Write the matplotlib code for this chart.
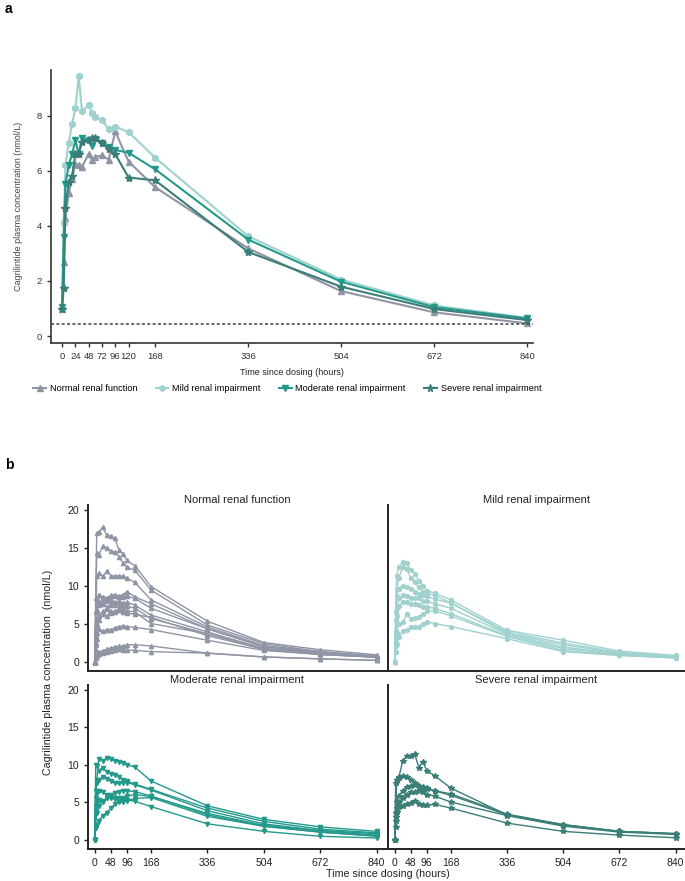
import numpy as np
import matplotlib
matplotlib.use("Agg")
import matplotlib.pyplot as plt

plt.rcParams['font.family'] = ['Liberation Sans', 'DejaVu Sans']

# ---- panel a: mean profiles ----
t_mean = [0, 3, 6, 12, 18, 24, 30, 36, 48, 54, 60, 72, 84, 96, 120, 168, 336, 504, 672, 840]
normal_mean = [1.0, 2.7, 4.3, 5.2, 5.7, 6.25, 6.2, 6.15, 6.6, 6.4, 6.5, 6.55, 6.4, 7.42, 6.33, 5.4, 3.18, 1.63, 0.86, 0.46]
mild_mean = [1.0, 4.1, 6.2, 7.0, 7.7, 8.26, 9.42, 8.15, 8.38, 8.09, 7.94, 7.84, 7.5, 7.6, 7.4, 6.47, 3.62, 2.05, 1.11, 0.66]
moderate_mean = [1.05, 3.6, 5.5, 6.2, 6.6, 7.1, 6.6, 7.17, 7.1, 6.89, 7.15, 7.0, 6.85, 6.75, 6.65, 6.05, 3.5, 1.97, 1.05, 0.64]
severe_mean = [1.0, 1.75, 4.65, 5.6, 5.8, 6.6, 6.6, 7.05, 7.1, 7.2, 7.2, 7.0, 6.8, 6.6, 5.75, 5.65, 3.05, 1.79, 0.98, 0.58]
lloq = 0.43

ticks_a = [0, 24, 48, 72, 96, 120, 168, 336, 504, 672, 840]
ticks_b = [0, 48, 96, 168, 336, 504, 672, 840]

# ---- panel b: individual profiles ----
t_ind = [0, 3, 6, 12, 24, 36, 48, 60, 72, 84, 96, 120, 168, 336, 504, 672, 840]

normal_ind = [
    [0, 8.3, 16.9, 17.0, 17.7, 16.6, 16.5, 16.2, 14.7, 14.2, 13.3, 12.6, 9.85, 5.3, 2.5, 1.55, 0.88],
    [0, 6.5, 14.3, 14.0, 15.2, 14.9, 14.5, 14.4, 13.8, 13.0, 12.4, 12.0, 9.4, 4.8, 2.35, 1.3, 0.7],
    [0, 4.0, 11.3, 11.6, 11.2, 11.9, 11.3, 11.2, 11.3, 11.2, 11.0, 10.4, 8.1, 4.55, 2.1, 1.3, 0.7],
    [0, 6.6, 8.3, 8.7, 8.5, 8.4, 8.7, 8.8, 8.6, 8.8, 9.2, 8.5, 7.6, 4.3, 2.0, 1.15, 0.57],
    [0, 3.7, 7.8, 8.7, 8.2, 8.4, 8.2, 8.6, 8.5, 8.5, 8.6, 8.3, 7.0, 4.3, 1.9, 1.15, 0.57],
    [0, 2.4, 6.5, 7.8, 8.0, 7.9, 8.0, 7.8, 7.9, 7.7, 7.8, 7.4, 6.1, 3.9, 1.7, 1.15, 0.57],
    [0, 4.5, 6.8, 7.4, 7.6, 7.2, 7.5, 7.4, 7.5, 7.2, 7.3, 7.0, 5.65, 3.66, 1.7, 1.0, 0.57],
    [0, 3.5, 5.0, 6.0, 6.6, 6.9, 6.4, 6.6, 6.9, 6.5, 6.7, 6.5, 5.0, 3.66, 1.6, 0.93, 0.57],
    [0, 1.5, 3.0, 5.4, 6.2, 6.0, 6.6, 6.5, 6.8, 6.6, 6.4, 6.2, 5.8, 3.4, 1.6, 0.93, 0.57],
    [0, 2.2, 3.8, 4.3, 4.0, 4.2, 4.2, 4.4, 4.6, 4.7, 4.6, 4.5, 4.2, 2.8, 1.45, 0.93, 0.57],
    [0, 0.6, 0.9, 1.2, 1.4, 1.6, 1.8, 1.9, 2.0, 2.0, 2.2, 2.2, 2.05, 1.1, 0.6, 0.35, 0.15],
    [0, 0.4, 0.7, 1.0, 1.1, 1.3, 1.4, 1.5, 1.6, 1.5, 1.5, 1.45, 1.3, 1.1, 0.6, 0.35, 0.15],
]
mild_ind = [
    [0, 6.5, 11.3, 12.5, 13.1, 12.9, 12.0, 11.5, 10.6, 10.0, 9.3, 9.0, 8.1, 4.1, 2.8, 1.37, 0.8],
    [0, 5.5, 9.5, 11.0, 12.4, 12.2, 11.0, 10.4, 9.8, 9.2, 9.0, 8.7, 7.7, 3.9, 2.43, 1.2, 0.7],
    [0, 4.0, 8.6, 9.6, 10.0, 9.8, 9.5, 9.2, 8.9, 8.7, 8.6, 8.2, 7.7, 3.7, 2.2, 1.1, 0.65],
    [0, 3.5, 7.0, 8.3, 8.8, 8.6, 8.4, 8.4, 8.3, 8.0, 7.9, 7.6, 7.0, 3.6, 1.9, 1.0, 0.6],
    [0, 2.5, 6.0, 7.3, 7.8, 7.8, 7.6, 7.6, 7.4, 7.2, 7.2, 7.0, 6.3, 3.4, 1.7, 0.9, 0.57],
    [0, 2.0, 3.7, 5.0, 5.2, 6.2, 5.6, 5.7, 5.8, 6.3, 6.6, 6.7, 6.0, 3.3, 1.45, 0.8, 0.5],
    [0, 1.3, 2.3, 3.2, 4.0, 4.2, 4.5, 4.5, 4.6, 5.0, 5.2, 5.0, 4.6, 3.0, 1.3, 0.8, 0.45],
]
moderate_ind = [
    [0, 5.5, 8.0, 10.8, 10.5, 10.9, 10.7, 10.5, 10.4, 10.2, 10.0, 9.65, 7.8, 4.5, 2.7, 1.7, 1.1],
    [0, 10.0, 9.8, 9.2, 9.6, 9.0, 8.8, 8.6, 8.4, 8.0, 7.8, 7.4, 6.7, 4.2, 2.43, 1.4, 0.9],
    [0, 6.5, 7.5, 8.0, 8.3, 8.1, 7.8, 7.5, 7.5, 7.6, 7.6, 7.3, 6.6, 3.85, 2.1, 1.2, 0.8],
    [0, 4.5, 6.2, 6.5, 6.3, 5.9, 5.7, 5.6, 5.6, 5.5, 5.8, 6.0, 5.75, 3.5, 1.9, 1.2, 0.6],
    [0, 3.8, 5.0, 5.3, 5.0, 5.5, 5.5, 5.4, 5.3, 5.4, 5.3, 5.1, 4.4, 2.1, 1.1, 0.44, 0.22],
    [0, 1.5, 2.0, 2.5, 3.2, 3.6, 4.2, 4.7, 5.0, 5.0, 5.2, 5.5, 5.6, 3.1, 1.77, 1.0, 0.44],
    [0, 2.0, 3.5, 4.5, 5.2, 5.5, 6.0, 6.2, 6.4, 6.5, 6.5, 6.4, 5.8, 3.3, 1.8, 1.0, 0.5],
]
severe_ind = [
    [0, 3.5, 8.0, 8.2, 10.5, 11.1, 11.1, 11.4, 9.6, 10.4, 9.2, 8.5, 6.86, 3.3, 2.0, 1.1, 0.8],
    [0, 7.5, 8.0, 8.4, 8.5, 8.4, 7.9, 7.5, 7.0, 6.8, 6.7, 6.5, 5.9, 3.3, 1.9, 1.1, 0.75],
    [0, 3.0, 5.0, 5.8, 6.5, 7.0, 7.2, 7.3, 7.2, 7.0, 6.9, 6.5, 6.1, 3.4, 2.0, 1.1, 0.8],
    [0, 2.5, 4.2, 5.0, 5.5, 6.0, 6.3, 6.4, 6.5, 6.3, 6.0, 5.8, 5.0, 3.2, 1.8, 1.0, 0.7],
    [0, 1.7, 3.7, 4.4, 4.5, 4.8, 4.9, 5.1, 4.8, 4.6, 4.6, 4.7, 4.2, 2.2, 1.1, 0.6, 0.25],
]

groups = ['Normal renal function', 'Mild renal impairment',
          'Moderate renal impairment', 'Severe renal impairment']
colors = ['#8f95a4', '#9fd1ce', '#23998c', '#3b7d77']
markers = ['^', 'h', 'v', '*']
means = [normal_mean, mild_mean, moderate_mean, severe_mean]
inds = [normal_ind, mild_ind, moderate_ind, severe_ind]

W, H = 685, 881
fig = plt.figure(figsize=(W / 100, H / 100), dpi=100)


def box(x0, y0, x1, y1):
    return [x0 / W, 1 - y1 / H, (x1 - x0) / W, (y1 - y0) / H]


spine_col = '#333333'

# Panel a
ax = fig.add_axes(box(51, 70, 533, 343))
for y, c, m, lab in zip(means, colors, markers, groups):
    ms = 6 if m == '*' else 4.5
    ax.plot(t_mean, y, color=c, marker=m, ms=ms, lw=1.5, label=lab)
ax.axhline(lloq, color='#444444', ls=(0, (2, 1.5)), lw=1.1)
ax.set_xlim(-20, 850)
ax.set_ylim(-0.25, 9.65)
ax.set_xticks(ticks_a)
ax.set_yticks([0, 2, 4, 6, 8])
for s in ['top', 'right']:
    ax.spines[s].set_visible(False)
for s in ['left', 'bottom']:
    ax.spines[s].set_color(spine_col)
    ax.spines[s].set_linewidth(1.2)
ax.tick_params(labelsize=6.8, colors=spine_col, length=3, width=1)
ax.set_xlabel('Time since dosing (hours)', fontsize=6.5, color='#222222', labelpad=5)
ax.set_ylabel('Cagrilintide plasma concentration (nmol/L)', fontsize=6.5,
              color='#444444', labelpad=10)
ax.legend(loc='upper center', bbox_to_anchor=(0.49, -0.12), ncol=4, frameon=False,
          fontsize=6.6, handlelength=1.4, columnspacing=2.0, handletextpad=0.4,
          markerscale=0.9)
fig.text(5 / W, 1 - 9 / H, 'a', fontsize=10, fontweight='bold', va='center', ha='left')

# Panel b
pos = [box(88, 505, 386, 671), box(388, 505, 685, 671),
       box(88, 685, 386, 849), box(388, 685, 685, 849)]
for i in range(4):
    axb = fig.add_axes(pos[i])
    for y in inds[i]:
        ms = 4 if markers[i] == '*' else 3
        axb.plot(t_ind, y, color=colors[i], marker=markers[i], ms=ms, lw=1.0)
    axb.set_xlim(-20, 868)
    axb.set_ylim(-1.25, 20.6)
    axb.set_xticks(ticks_b)
    axb.set_yticks([0, 5, 10, 15, 20])
    for s in ['top', 'right']:
        axb.spines[s].set_visible(False)
    for s in ['left', 'bottom']:
        axb.spines[s].set_color('#222222')
        axb.spines[s].set_linewidth(1.4)
    axb.tick_params(labelsize=7.5, colors='#222222', length=3, width=1)
    if i < 2:
        axb.tick_params(axis='x', length=0, labelbottom=False)
    if i % 2 == 1:
        axb.tick_params(axis='y', length=0, labelleft=False)
    axb.set_title(groups[i], fontsize=8, pad=0, color='#222222')

fig.text(388 / W, 1 - 874 / H, 'Time since dosing (hours)', fontsize=7.7,
         ha='center', va='center', color='#222222')
fig.text(48 / W, 1 - 672 / H, 'Cagrilintide plasma concentration  (nmol/L)', fontsize=7.7,
         ha='center', va='center', rotation=90, color='#222222')
fig.text(5 / W, 1 - 465 / H, 'b', fontsize=10, fontweight='bold', va='center', ha='left')

fig.savefig('out.png', dpi=100)
